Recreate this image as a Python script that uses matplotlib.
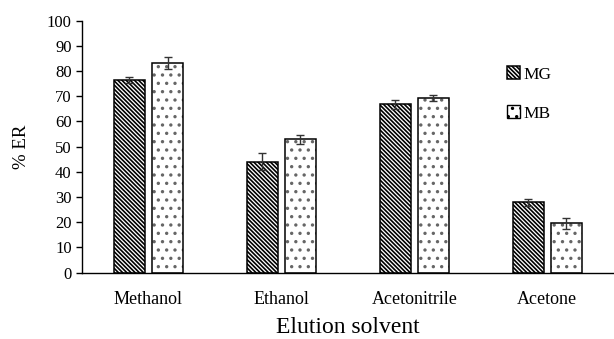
import matplotlib.pyplot as plt
import numpy as np

plt.rcParams['font.family'] = ['Liberation Serif', 'DejaVu Serif']
plt.rcParams['hatch.linewidth'] = 1.2

solvents = ['Methanol', 'Ethanol', 'Acetonitrile', 'Acetone']
mg = [76.6, 44.0, 66.9, 28.0]
mb = [83.3, 53.0, 69.2, 19.5]
mg_err = [1.2, 3.3, 1.8, 1.4]
mb_err = [2.4, 1.8, 1.1, 2.3]

fig = plt.figure(figsize=(6.14, 3.39), dpi=100)
ax = fig.add_axes([0.1336, 0.196, 0.866, 0.743])

x = np.arange(len(solvents))
w = 0.229
off = 0.143
err_style = dict(ecolor='#333333', elinewidth=1, capsize=3, capthick=1)

ax.bar(x - off, mg, w, yerr=mg_err, color='white', edgecolor='black',
       linewidth=1.1, hatch='\\' * 8, label='MG', error_kw=err_style)
# MB: grey dotted fill, then a black outline on top
ax.bar(x + off, mb, w, color='white', edgecolor='#666666', linewidth=0,
       hatch='..')
ax.bar(x + off, mb, w, yerr=mb_err, color='none', edgecolor='black',
       linewidth=1.1, error_kw=err_style)
ax.bar([0], [0], 0, color='white', edgecolor='black', hatch='..', label='MB')

ax.set_xlim(-0.5, len(solvents) - 0.5)
ax.set_ylim(0, 100)
ax.set_yticks(range(0, 101, 10))
ax.set_xticks(x)
ax.set_xticklabels(solvents, fontsize=13)
ax.tick_params(axis='y', labelsize=12, length=4, width=1, direction='out')
ax.tick_params(axis='x', length=0, pad=13)
ax.spines['top'].set_visible(False)
ax.spines['right'].set_visible(False)
ax.spines['left'].set_linewidth(1)
ax.spines['bottom'].set_linewidth(1)

ax.set_xlabel('Elution solvent', fontsize=17, labelpad=7)
ax.set_ylabel('% ER', fontsize=13.5, labelpad=12)

ax.legend(loc='upper left', bbox_to_anchor=(0.825, 0.805),
          bbox_transform=fig.transFigure, frameon=False, fontsize=12.5,
          handlelength=0.75, handleheight=0.75, handletextpad=0.2,
          labelspacing=1.3, borderpad=0, borderaxespad=0)

fig.savefig('out.png', dpi=100)
